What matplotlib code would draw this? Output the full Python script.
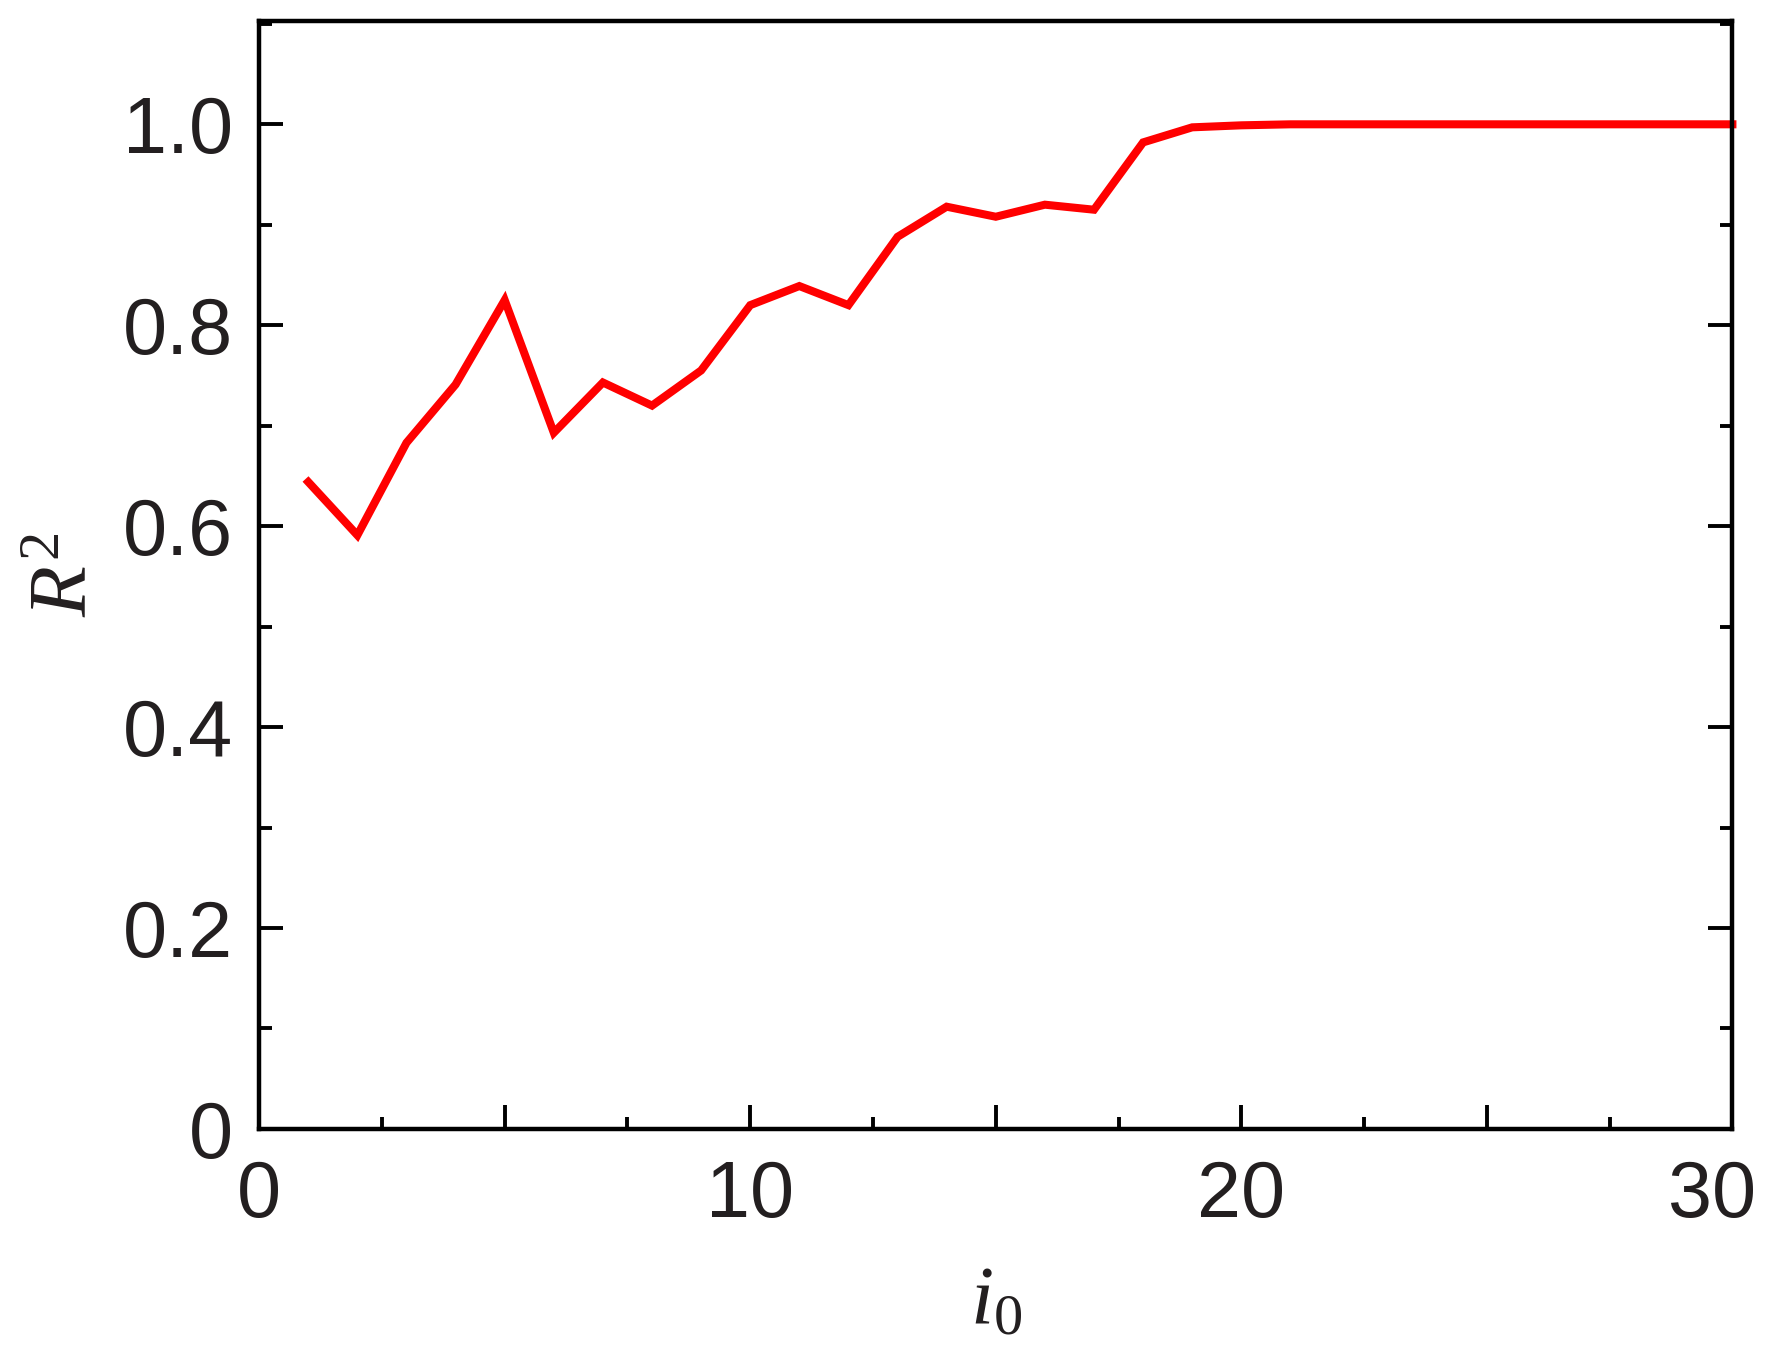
import matplotlib
matplotlib.use("Agg")
import matplotlib.pyplot as plt
import matplotlib.transforms as mtransforms
from matplotlib.ticker import MultipleLocator, FixedLocator

i0 = [1, 2, 3, 4, 5, 6, 7, 8, 9, 10, 11, 12, 13, 14, 15, 16, 17, 18, 19, 20,
      21, 22, 23, 24, 25, 26, 27, 28, 29, 30]
r2 = [0.644, 0.591, 0.683, 0.741, 0.825, 0.693, 0.743, 0.720, 0.755, 0.820,
      0.839, 0.820, 0.888, 0.918, 0.908, 0.920, 0.915, 0.982, 0.997, 0.999,
      1.0, 1.0, 1.0, 1.0, 1.0, 1.0, 1.0, 1.0, 1.0, 1.0]

xticks = [0, 5, 10, 15, 20, 25, 30]
xtick_labels = ["0", "", "10", "", "20", "", "30"]
yticks = [0, 0.2, 0.4, 0.6, 0.8, 1.0]
ytick_labels = ["0", "0.2", "0.4", "0.6", "0.8", "1.0"]

plt.rcParams["font.family"] = ["Liberation Sans", "DejaVu Sans"]
plt.rcParams["mathtext.fontset"] = "custom"
plt.rcParams["mathtext.it"] = "Liberation Serif:italic"
plt.rcParams["mathtext.rm"] = "Liberation Serif"

txt = "#231f20"

fig = plt.figure(figsize=(17.75, 13.53), dpi=100)
ax = fig.add_axes([0.146, 0.1656, 0.830, 0.819])

ax.plot(i0, r2, color="#ff0000", lw=5.8, solid_joinstyle="miter", clip_on=False)

ax.set_xlim(0, 30)
ax.set_ylim(0, 1.103)

ax.xaxis.set_major_locator(FixedLocator(xticks))
ax.xaxis.set_minor_locator(MultipleLocator(2.5))
ax.set_xticklabels(xtick_labels)
ax.yaxis.set_major_locator(FixedLocator(yticks))
ax.yaxis.set_minor_locator(MultipleLocator(0.1))
ax.set_yticklabels(ytick_labels)

for s in ax.spines.values():
    s.set_linewidth(3.2)
    s.set_color("black")

ax.tick_params(axis="x", which="both", direction="in", top=False, bottom=True,
               labelsize=57, labelcolor=txt, pad=22, width=2.8)
ax.tick_params(axis="y", which="both", direction="in", left=True, right=True,
               labelsize=57, labelcolor=txt, pad=19, width=2.8)
ax.tick_params(which="major", length=17)
ax.tick_params(which="minor", length=9)

# last x label sits a bit left of its tick, as in the original
lab = ax.get_xticklabels()[-1]
lab.set_transform(lab.get_transform() + mtransforms.ScaledTranslation(-0.2, 0, fig.dpi_scale_trans))

ax.set_xlabel(r"$i_0$", fontsize=60, color=txt, labelpad=20)
ax.set_ylabel(r"$R^{\mathrm{2}}$", fontsize=60, color=txt, labelpad=14)

fig.savefig("out.png", dpi=100)
